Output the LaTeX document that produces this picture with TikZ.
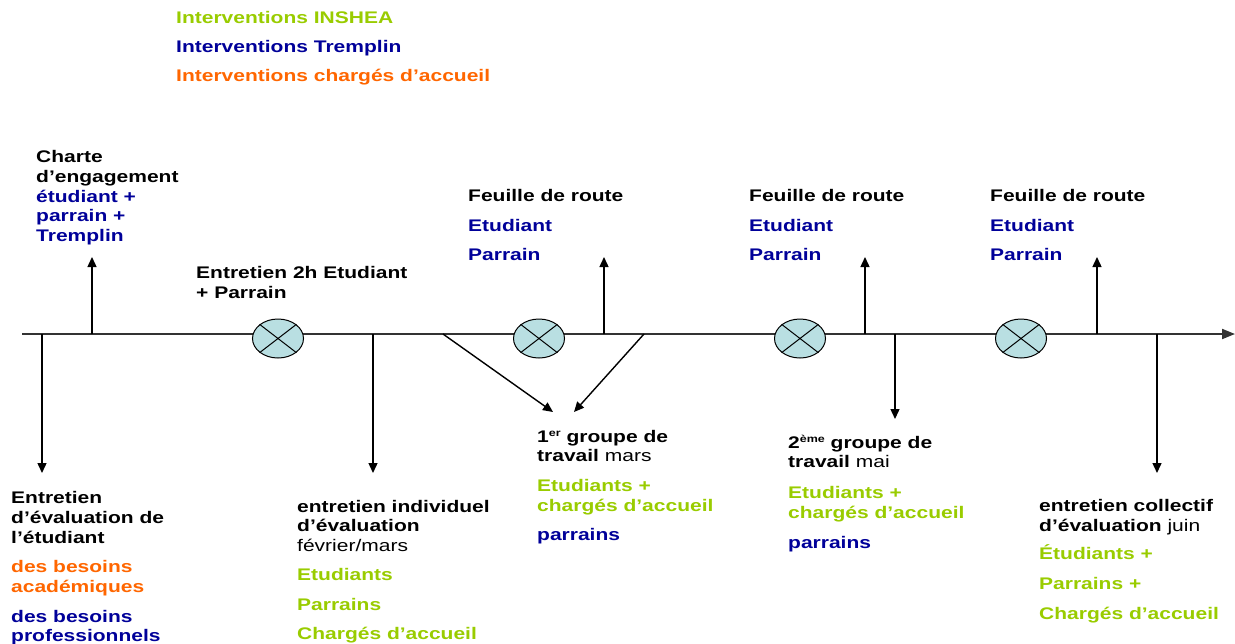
\documentclass[tikz,border=0pt]{standalone}
\usepackage{fontspec}
\setmainfont[FakeStretch=1.25]{Liberation Sans}
\usetikzlibrary{arrows.meta,shapes.geometric}
\definecolor{igreen}{HTML}{99CC00}
\definecolor{iblue}{HTML}{000099}
\definecolor{iorange}{HTML}{FF6600}
\definecolor{cfill}{HTML}{B9DFE2}
\newcommand{\supx}[1]{\raisebox{5.5pt}{\fontsize{10}{10}\selectfont #1}}
\begin{document}
\begin{tikzpicture}[x=1pt,y=-1pt,
  every node/.style={font=\fontsize{16.8}{20}\selectfont\bfseries},
  t/.style={anchor=base west, inner sep=0pt},
  milestone/.style={ellipse, draw=black, line width=1pt, fill=cfill, minimum width=51pt, minimum height=39pt, inner sep=0pt},
  axisline/.style={draw=black!80, line width=2pt, -{Triangle[length=13pt,width=10pt]}},
  tick/.style={draw=black, line width=1.4pt, -{Triangle[length=10pt,width=9pt]}},
  g/.style={text=igreen}, b/.style={text=iblue}, o/.style={text=iorange}]
\useasboundingbox (0,0) rectangle (1235,643);
% legend
\node[t,g] (leg1) at (176,23) {Interventions INSHEA};
\node[t,b] (leg2) at (176,52) {Interventions Tremplin};
\node[t,o] (leg3) at (176,81) {Interventions chargés d’accueil};
% axis
\coordinate (a0) at (22,334);
\coordinate (a1) at (1235,334);
\draw[axisline] (a0) -- (a1);
% milestones
\foreach \n/\x in {m1/278,m2/539,m3/800,m4/1021}{
  \node[milestone] (\n) at (\x,338.5) {};
  \draw[line width=1pt] (\n.north west) -- (\n.south east) (\n.north east) -- (\n.south west);
}
% tick coordinates
\coordinate (d1s) at (42,334);   \coordinate (d1e) at (42,473);
\coordinate (u1s) at (92,334);   \coordinate (u1e) at (92,257);
\coordinate (d2s) at (373,334);  \coordinate (d2e) at (373,473);
\coordinate (g1a) at (443,334);  \coordinate (g1ae) at (553,412);
\coordinate (g1b) at (644,334);  \coordinate (g1be) at (574,412);
\coordinate (u2s) at (604,334);  \coordinate (u2e) at (604,257);
\coordinate (u3s) at (865,334);  \coordinate (u3e) at (865,257);
\coordinate (d3s) at (895,334);  \coordinate (d3e) at (895,419);
\coordinate (u4s) at (1097,334); \coordinate (u4e) at (1097,257);
\coordinate (d4s) at (1157,334); \coordinate (d4e) at (1157,473);
\foreach \s/\e in {d1s/d1e,u1s/u1e,d2s/d2e,g1a/g1ae,g1b/g1be,u2s/u2e,u3s/u3e,d3s/d3e,u4s/u4e,d4s/d4e}
  \draw[tick] (\s) -- (\e);
% Charte
\node[t] (ch1) at (36,162) {Charte};
\node[t] (ch2) at (36,182) {d’engagement};
\node[t,b] (ch3) at (36,202) {étudiant +};
\node[t,b] (ch4) at (36,221) {parrain +};
\node[t,b] (ch5) at (36,241) {Tremplin};
% Entretien 2h
\node[t] (e2a) at (196,278) {Entretien 2h Etudiant};
\node[t] (e2b) at (196,298) {+ Parrain};
% Feuilles de route
\foreach \n/\x in {f1/468,f2/749,f3/990}{
  \node[t] (\n a) at (\x,201) {Feuille de route};
  \node[t,b] (\n b) at (\x,231) {Etudiant};
  \node[t,b] (\n c) at (\x,260) {Parrain};
}
% bottom left
\node[t] (bl1) at (11,503) {Entretien};
\node[t] (bl2) at (11,523) {d’évaluation de};
\node[t] (bl3) at (11,543) {l’étudiant};
\node[t,o] (bl4) at (11,572) {des besoins};
\node[t,o] (bl5) at (11,592) {académiques};
\node[t,b] (bl6) at (11,622) {des besoins};
\node[t,b] (bl7) at (11,641) {professionnels};
% entretien individuel
\node[t] (ei1) at (297,512) {entretien individuel};
\node[t] (ei2) at (297,531) {d’évaluation};
\node[t] (ei3) at (297,551) {\mdseries février/mars};
\node[t,g] (ei4) at (297,580) {Etudiants};
\node[t,g] (ei5) at (297,610) {Parrains};
\node[t,g] (ei6) at (297,639) {Chargés d’accueil};
% 1er groupe
\node[t] (ga1) at (537,442) {1\supx{er} groupe de};
\node[t] (ga2) at (537,461) {travail \mdseries mars};
\node[t,g] (ga3) at (537,491) {Etudiants +};
\node[t,g] (ga4) at (537,511) {chargés d’accueil};
\node[t,b] (ga5) at (537,540) {parrains};
% 2eme groupe
\node[t] (gb1) at (788,448) {2\supx{ème} groupe de};
\node[t] (gb2) at (788,467) {travail \mdseries mai};
\node[t,g] (gb3) at (788,498) {Etudiants +};
\node[t,g] (gb4) at (788,518) {chargés d’accueil};
\node[t,b] (gb5) at (788,548) {parrains};
% entretien collectif
\node[t] (ec1) at (1039,511) {entretien collectif};
\node[t] (ec2) at (1039,531) {d’évaluation \mdseries juin};
\node[t,g] (ec3) at (1039,559) {Étudiants +};
\node[t,g] (ec4) at (1039,589) {Parrains +};
\node[t,g] (ec5) at (1039,619) {Chargés d’accueil};
\end{tikzpicture}
\end{document}
